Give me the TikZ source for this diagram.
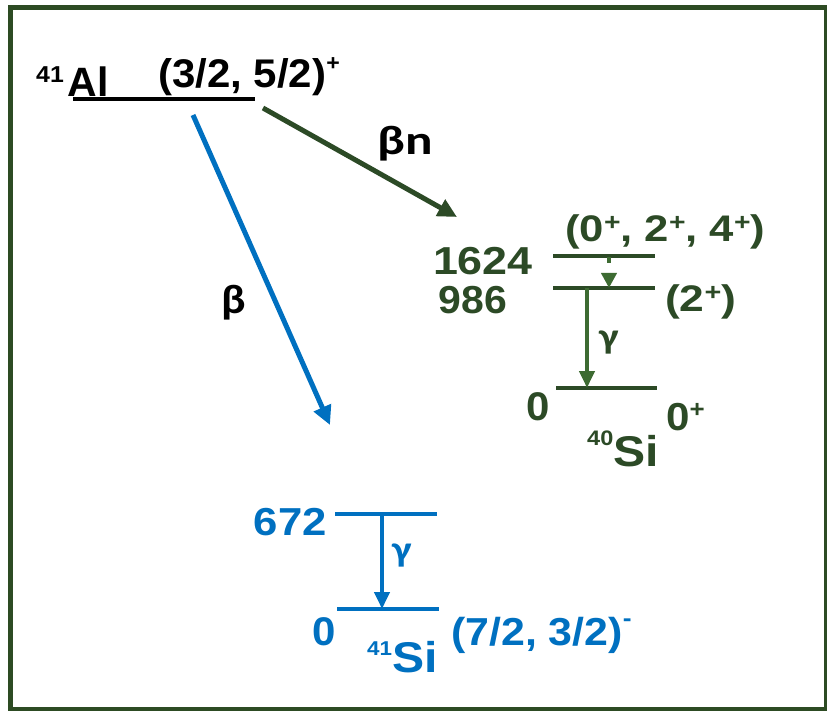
\documentclass[tikz,border=0pt]{standalone}
\usepackage{fontspec}
\setmainfont{Liberation Sans}
\newfontfamily\calfont{Carlito}
\usepackage{graphicx}
\usetikzlibrary{arrows.meta}
\definecolor{dkgreen}{RGB}{44,74,38}
\definecolor{ltgreen}{RGB}{61,107,50}
\definecolor{myblue}{RGB}{0,112,192}
\definecolor{framegreen}{RGB}{45,75,35}
\newcommand\fsz[1]{\fontsize{#1}{#1}\selectfont}
\newcommand\hs[2]{\scalebox{#1}[1]{#2}}
\newcommand\up[3]{\raisebox{#1}{\fsz{#2}#3}}
\begin{document}
\begin{tikzpicture}[x=1pt,y=-1pt,
  lbl/.style={inner sep=0pt, font=\bfseries},
  levelline/.style={line width=4pt},
  decay/.style={line width=5pt, -{Triangle[width=18pt,length=19pt]}},
  gam/.style={line width=4pt, -{Triangle[width=15pt,length=17pt]}}]
\useasboundingbox (0,0) rectangle (827,711);
\draw[framegreen, line width=5pt] (10,8) rectangle (826,709);

% 41Al
\node[lbl, anchor=base west] (al) at (36,97) {\hs{1.08}{\up{14pt}{23}{41}}\hspace{4pt}\fsz{41}Al};
\node[lbl, anchor=base west] (alj) at (158,88) {\hs{1.05}{\fsz{40}(3/2, 5/2)\up{17pt}{22}{+}}};
\coordinate (alL) at (73,99);
\coordinate (alR) at (255,99);
\draw[levelline] (alL) -- (alR);

% decay arrows
\coordinate (bnS) at (263,108);
\coordinate (bnE) at (457,217);
\draw[decay, dkgreen] (bnS) -- (bnE);
\coordinate (bS) at (193,115);
\coordinate (bE) at (330,425);
\draw[decay, myblue] (bS) -- (bE);
\node[lbl, anchor=base west] (lbn) at (377,155) {\hs{1.25}{\calfont\fsz{41}βn}};
\node[lbl, anchor=base west] (lb) at (221,313) {\hs{1.1}{\calfont\fsz{41}β}};

% 40Si
\coordinate (a1L) at (553,256); \coordinate (a1R) at (655,256);
\coordinate (a2L) at (553,288); \coordinate (a2R) at (655,288);
\coordinate (a0L) at (556,388); \coordinate (a0R) at (657,388);
\draw[levelline, dkgreen] (a1L) -- (a1R);
\draw[levelline, dkgreen] (a2L) -- (a2R);
\draw[levelline, dkgreen] (a0L) -- (a0R);
\coordinate (g1s) at (587,288); \coordinate (g1e) at (587,388);
\draw[gam, ltgreen] (g1s) -- (g1e);
\coordinate (g2s) at (609,257); \coordinate (g2e) at (609,288);
\draw[ltgreen, line width=4pt, dash pattern=on 6pt off 10pt, -{Triangle[width=15pt,length=15pt]}] (g2s) -- (g2e);
\node[lbl, anchor=base east, text=dkgreen] (e1624) at (533,275) {\hs{1.15}{\fsz{39}1624}};
\node[lbl, anchor=base east, text=dkgreen] (e986) at (507,313) {\hs{1.05}{\fsz{39}986}};
\node[lbl, anchor=base west, text=dkgreen] (j1624) at (565,242) {\hs{1.18}{\fsz{37}(0\up{11pt}{24}{+}, 2\up{11pt}{24}{+}, 4\up{11pt}{24}{+})}};
\node[lbl, anchor=base west, text=dkgreen] (j986) at (665,312) {\hs{1.2}{\fsz{37}(2\up{11pt}{24}{+})}};
\node[lbl, anchor=base east, text=dkgreen] (e0a) at (550,420) {\hs{1.05}{\fsz{40}0}};
\node[lbl, anchor=base west, text=dkgreen] (j0a) at (666,430) {\hs{1.08}{\fsz{39}0\up{13pt}{24}{+}}};
\node[lbl, anchor=base west, text=dkgreen] (si40) at (587,466) {\hs{1.12}{\up{21pt}{21}{40}\fsz{43}Si}};
\node[lbl, anchor=base west, text=dkgreen] (ga) at (599,348) {\hs{1.15}{\calfont\fsz{36}γ}};

% 41Si
\coordinate (b1L) at (335,514); \coordinate (b1R) at (437,514);
\coordinate (b0L) at (337,609); \coordinate (b0R) at (439,609);
\draw[levelline, myblue] (b1L) -- (b1R);
\draw[levelline, myblue] (b0L) -- (b0R);
\coordinate (g3s) at (382,514); \coordinate (g3e) at (382,609);
\draw[gam, myblue] (g3s) -- (g3e);
\node[lbl, anchor=base east, text=myblue] (e672) at (327,535) {\hs{1.12}{\fsz{39}672}};
\node[lbl, anchor=base east, text=myblue] (e0b) at (336,645) {\hs{1.05}{\fsz{40}0}};
\node[lbl, anchor=base west, text=myblue] (si41) at (367,672) {\hs{1.12}{\up{17pt}{20}{41}\fsz{43}Si}};
\node[lbl, anchor=base west, text=myblue] (gb) at (392,561) {\hs{1.15}{\calfont\fsz{36}γ}};
\node[lbl, anchor=base west, text=myblue] (j0b) at (451,645) {\hs{1.1}{\fsz{39}(7/2, 3/2)\up{19pt}{24}{-}}};
\end{tikzpicture}
\end{document}
